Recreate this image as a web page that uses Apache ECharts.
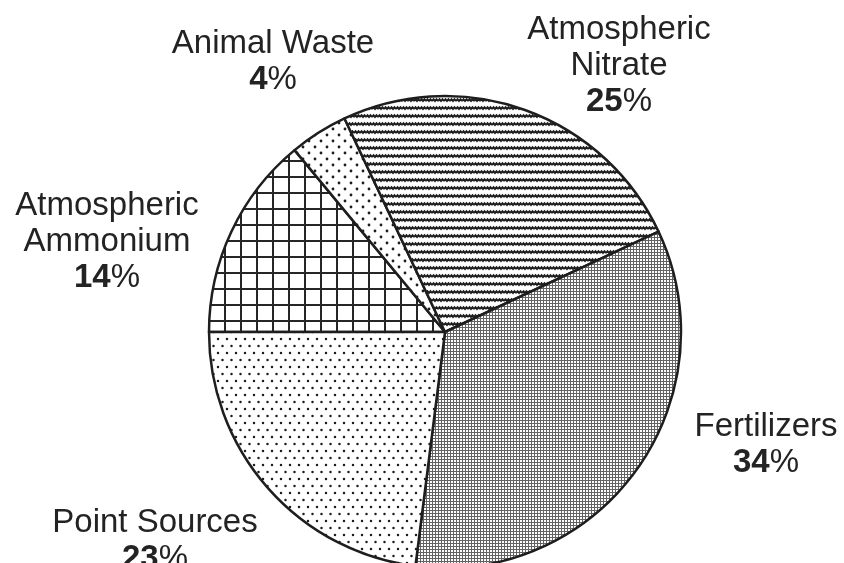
<!DOCTYPE html>
<html>
<head>
<meta charset="utf-8">
<script src="https://cdn.jsdelivr.net/npm/echarts@6/dist/echarts.min.js"></script>
<style>
html, body { margin: 0; padding: 0; background: #fff; }
#nitrogen-pie { width: 844px; height: 563px; }
</style>
</head>
<body>
<div id="nitrogen-pie"></div>
<script>
// nitrogen sources, share of total load (%)
var sourceNames = ['Atmospheric\nAmmonium', 'Animal Waste', 'Atmospheric\nNitrate', 'Fertilizers', 'Point Sources'];
var sourceShares = [14, 4, 25, 34, 23];

// where each label block sits (top-center), same order as above
var labelSpots = [[107, 188], [273, 26], [619, 12], [766, 409], [155, 505]];

// hatch tiles, one per slice
function makeTile(w, h, draw) {
    var c = document.createElement('canvas');
    c.width = w;
    c.height = h;
    var ctx = c.getContext('2d');
    ctx.fillStyle = '#fff';
    ctx.fillRect(0, 0, w, h);
    draw(ctx);
    return { image: c, repeat: 'repeat' };
}
function dot(ctx, x, y, r) {
    ctx.beginPath();
    ctx.arc(x, y, r, 0, Math.PI * 2);
    ctx.fill();
}

var gridTile = makeTile(16, 16, function (ctx) {
    ctx.fillStyle = '#262626';
    ctx.fillRect(0, 0, 16, 2);
    ctx.fillRect(0, 0, 2, 16);
});
var sparseDotTile = makeTile(12, 12, function (ctx) {
    ctx.fillStyle = '#1e1e1e';
    dot(ctx, 3, 3, 1.4);
    dot(ctx, 9, 9, 1.4);
});
var waveTile = makeTile(6, 8, function (ctx) {
    ctx.strokeStyle = '#1e1e1e';
    ctx.lineWidth = 2;
    ctx.beginPath();
    ctx.moveTo(0, 5);
    ctx.lineTo(1.5, 3.2);
    ctx.lineTo(3, 5);
    ctx.lineTo(4.5, 3.2);
    ctx.lineTo(6, 5);
    ctx.stroke();
});
var greyTile = makeTile(3, 3, function (ctx) {
    ctx.fillStyle = '#636363';
    ctx.fillRect(0, 0, 3, 1);
    ctx.fillRect(0, 0, 1, 3);
});
var denseDotTile = makeTile(9, 14, function (ctx) {
    ctx.fillStyle = '#1e1e1e';
    dot(ctx, 2, 3, 1.25);
    dot(ctx, 6.5, 10, 1.25);
});
var sliceFills = [gridTile, sparseDotTile, waveTile, greyTile, denseDotTile];

var pieData = [];
for (var i = 0; i < sourceNames.length; i++) {
    pieData.push({
        name: sourceNames[i],
        value: sourceShares[i],
        itemStyle: { color: sliceFills[i] }
    });
}

var myChart = echarts.init(document.getElementById('nitrogen-pie'), null, { renderer: 'canvas' });

var option = {
    backgroundColor: '#fff',
    animation: false,
    series: [
        {
            type: 'pie',
            center: [445, 332],
            radius: 236,
            startAngle: 180,
            clockwise: true,
            silent: true,
            data: pieData,
            itemStyle: {
                borderColor: '#1e1e1e',
                borderWidth: 2.5
            },
            label: {
                show: true,
                position: 'inside',
                align: 'center',
                overflow: 'none',
                formatter: function (p) {
                    var lines = p.name.split('\n').map(function (s) { return '{name|' + s + '}'; });
                    return lines.join('\n') + '\n{n|' + p.value + '}{p|%}';
                },
                rich: {
                    name: { fontFamily: 'Liberation Sans', fontSize: 33, lineHeight: 36, color: '#232323', align: 'center' },
                    n: { fontFamily: 'Liberation Sans', fontSize: 33, lineHeight: 36, fontWeight: 'bold', color: '#232323' },
                    p: { fontFamily: 'Liberation Sans', fontSize: 33, lineHeight: 36, color: '#232323' }
                }
            },
            labelLine: { show: false },
            labelLayout: function (params) {
                var s = labelSpots[params.dataIndex];
                return { x: s[0], y: s[1], align: 'center', verticalAlign: 'top' };
            }
        }
    ]
};

myChart.setOption(option);
</script>
</body>
</html>
